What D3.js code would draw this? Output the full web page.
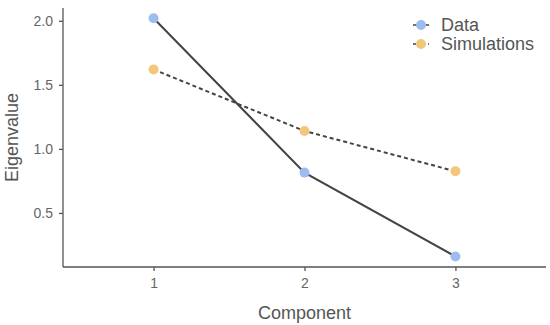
<!DOCTYPE html>
<html>
<head>
<meta charset="utf-8">
<script src="https://cdn.jsdelivr.net/npm/d3@7"></script>
<style>
  body { margin: 0; background: #fff; }
  svg { font-family: "Liberation Sans", Arial, sans-serif; }
</style>
</head>
<body>
<div id="chart"></div>
<script>
const components = [1, 2, 3]
const dataValues = [2.02, 0.815, 0.16]
const simValues = [1.62, 1.14, 0.825]
const yTicks = [0.5, 1.0, 1.5, 2.0]
const seriesNames = ["Data", "Simulations"]
const seriesColors = ["#9dbcf0", "#f2c77a"]

const width = 550, height = 325
const margin = { top: 8, right: 4, bottom: 58, left: 63 }

const svg = d3.select("#chart").append("svg")
  .attr("width", width)
  .attr("height", height)

const x = d3.scaleLinear().domain([0.4, 3.6]).range([margin.left, width - margin.right])
const y = d3.scaleLinear().domain([0.078, 2.1]).range([height - margin.bottom, margin.top])

// axes
const xAxis = svg.append("g")
  .attr("transform", `translate(0,${height - margin.bottom})`)
  .call(d3.axisBottom(x).tickValues(components).tickFormat(d3.format("d")).tickSize(4).tickPadding(7))
const yAxis = svg.append("g")
  .attr("transform", `translate(${margin.left},0)`)
  .call(d3.axisLeft(y).tickValues(yTicks).tickFormat(d3.format(".1f")).tickSize(4).tickPadding(6))

;[xAxis, yAxis].forEach(function(a) {
  a.select(".domain").attr("stroke", "#555").attr("stroke-width", 1.3)
  a.selectAll(".tick line").attr("stroke", "#555").attr("stroke-width", 1.3)
  a.selectAll(".tick text").attr("fill", "#666").attr("font-size", 14)
})
xAxis.select(".domain").attr("d", `M${margin.left},0H${width - margin.right}`)
yAxis.select(".domain").attr("d", `M0,${margin.top}V${height - margin.bottom}`)

svg.append("text")
  .attr("x", (margin.left + width - margin.right) / 2)
  .attr("y", 319)
  .attr("text-anchor", "middle")
  .attr("font-size", 18)
  .attr("fill", "#555")
  .text("Component")

svg.append("text")
  .attr("transform", `translate(18,${(margin.top + height - margin.bottom) / 2}) rotate(-90)`)
  .attr("text-anchor", "middle")
  .attr("font-size", 18)
  .attr("fill", "#555")
  .text("Eigenvalue")

const line = d3.line().x(function(d, i) { return x(components[i]) }).y(function(d) { return y(d) })

svg.append("path").datum(simValues)
  .attr("d", line).attr("fill", "none").attr("stroke", "#444")
  .attr("stroke-width", 2).attr("stroke-dasharray", "4,3")
svg.append("path").datum(dataValues)
  .attr("d", line).attr("fill", "none").attr("stroke", "#444")
  .attr("stroke-width", 2)

;[dataValues, simValues].forEach(function(vals, s) {
  svg.append("g").selectAll("circle")
    .data(vals)
    .enter().append("circle")
      .attr("cx", function(d, i) { return x(components[i]) })
      .attr("cy", function(d) { return y(d) })
      .attr("r", 5)
      .attr("fill", seriesColors[s])
})

// legend
const legend = svg.append("g").attr("transform", "translate(421,25)")
seriesNames.forEach(function(name, i) {
  const g = legend.append("g").attr("transform", `translate(0,${i * 19})`)
  g.append("line").attr("x1", -8).attr("x2", 8).attr("stroke", "#444").attr("stroke-width", 1.5)
    .attr("stroke-dasharray", i === 1 ? "3,2" : null)
  g.append("circle").attr("r", 5).attr("fill", seriesColors[i])
  g.append("text").attr("x", 20).attr("dy", "0.36em")
    .attr("font-size", 18).attr("fill", "#555").text(name)
})
</script>
</body>
</html>
